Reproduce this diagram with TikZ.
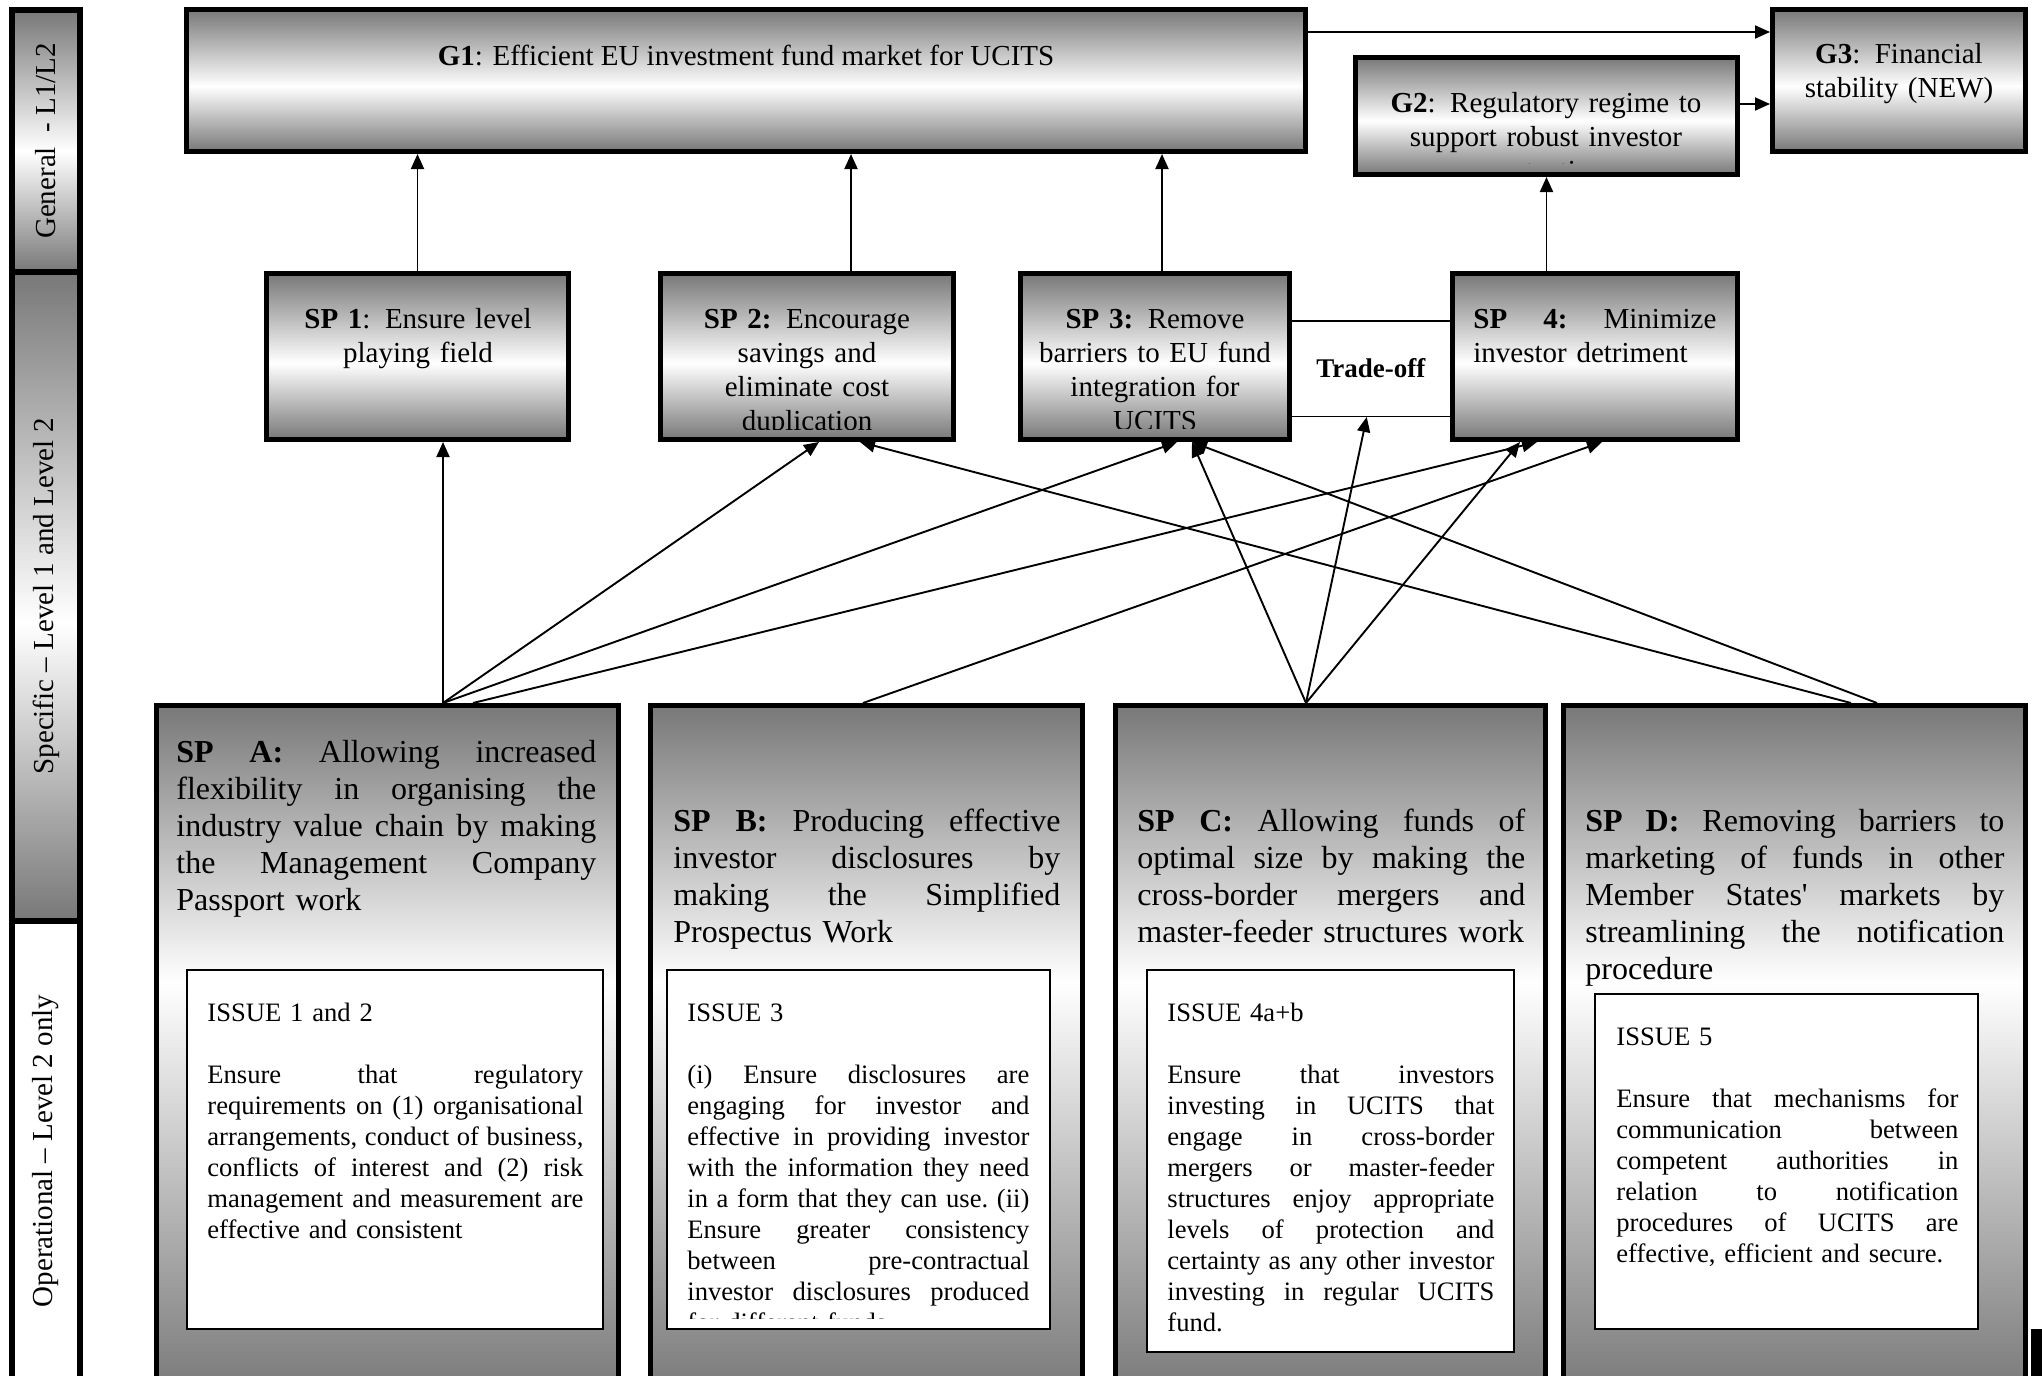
\documentclass[tikz,border=0pt]{standalone}
\usepackage{fontspec}
\setmainfont{Liberation Serif}
\usetikzlibrary{arrows.meta,calc}
\definecolor{sg}{gray}{0.47}
\pgfdeclareverticalshading{topshade}{100bp}{color(0bp)=(sg); color(25bp)=(sg); color(48bp)=(white); color(75bp)=(sg); color(100bp)=(sg)}
\pgfdeclareverticalshading{tallshade}{100bp}{color(0bp)=(sg); color(25bp)=(sg); color(55bp)=(white); color(75bp)=(sg); color(100bp)=(sg)}
\newcommand\jl[1]{\makebox[\hsize][s]{\frenchspacing\spaceskip=.25em plus 1fil\xspaceskip=.25em plus 1fil\relax #1}}
\tikzset{
  stripbox/.style={draw, line width=3pt, inner sep=0pt, anchor=north west, minimum width=34pt},
  striptext/.style={font=\fontsize{14.5}{17}\selectfont, inner sep=0pt, rotate=90},
  tbox/.style={draw, line width=2.5pt, inner sep=0pt, anchor=north west, shade, shading=topshade},
  bbox/.style={draw, line width=2.5pt, inner sep=0pt, anchor=north west, shade, shading=tallshade, minimum height=346pt},
  ibox/.style={draw, line width=0.8pt, fill=white, inner sep=0pt, anchor=north west},
  ttext/.style={font=\fontsize{14.5}{17}\selectfont, inner sep=0pt, anchor=north, align=center},
  stext/.style={font=\fontsize{16}{18.5}\selectfont, inner sep=0pt, anchor=north west, align=left},
  itext/.style={font=\fontsize{13.3}{15.5}\selectfont, inner sep=0pt, anchor=north west, align=left},
  arr/.style={-{Triangle[length=7.5pt,width=6.5pt]}, line width=0.95pt}
}
\begin{document}
\begin{tikzpicture}[x=0.5pt,y=-0.5pt]
\useasboundingbox (0,0) rectangle (2042,1376);
\clip (0,0) rectangle (2042,1376);

% left strip
\node[stripbox, shade, shading=topshade, minimum height=324.5pt] (spec) at (9,269) {};
\node[stripbox, shade, shading=topshade, minimum height=131pt] (gen) at (9,7) {};
\node[stripbox, fill=white, minimum height=248pt] (op) at (9,918) {};
\node[striptext] (genT) at (gen.center) {General\ \ - L1/L2};
\node[striptext] (specT) at (spec.center) {Specific -- Level 1 and Level 2};
\node[striptext] (opT) at ($(op.north)+(0,233)$) {Operational -- Level 2 only};

% top goal boxes
\node[tbox, minimum width=559.5pt, minimum height=71pt] (g1) at (184,7) {};
\node[tbox, minimum width=191pt, minimum height=58.5pt] (g2) at (1353,55) {};
\node[tbox, minimum width=126.5pt, minimum height=71pt] (g3) at (1770,7) {};

% trade-off
\node[draw, line width=0.75pt, fill=white, inner sep=0pt, anchor=north west, minimum width=80pt, minimum height=47.75pt, font=\fontsize{13.5}{16}\selectfont\bfseries] (to) at (1290,320) {Trade-off};

% specific objective boxes
\node[tbox, minimum width=151pt, minimum height=83pt] (sp1) at (264,271) {};
\node[tbox, minimum width=146.5pt, minimum height=83pt] (sp2) at (658,271) {};
\node[tbox, minimum width=134.5pt, minimum height=83pt] (sp3) at (1018,271) {};
\node[tbox, minimum width=142.5pt, minimum height=83pt] (sp4) at (1450,271) {};

% top texts
\node[ttext] (g1t) at (746,41) {\strut\textbf{G1}: Efficient EU investment fund market for UCITS};
\node[ttext, text width=120pt] (g3t) at (1899,39) {\strut\textbf{G3}: Financial\\stability (NEW)};
\begin{scope}
\clip (1358,60) rectangle (1735,163);
\node[ttext, text width=185pt] (g2t) at (1546,88) {\strut\textbf{G2}: Regulatory regime to\\support robust investor\\protection};
\end{scope}
\node[ttext, text width=140pt] (sp1t) at (418,304) {\strut\textbf{SP 1}: Ensure level\\playing field};
\begin{scope}
\clip (661,276) rectangle (953,429);
\node[ttext, text width=140pt] (sp2t) at (807,304) {\strut\textbf{SP 2:} Encourage\\savings and\\eliminate cost\\duplication};
\end{scope}
\begin{scope}
\clip (1021,276) rectangle (1289,428);
\node[ttext, text width=130pt] (sp3t) at (1155,304) {\strut\textbf{SP 3:} Remove\\barriers to EU fund\\integration for\\UCITS};
\end{scope}
\node[ttext, anchor=north west, align=left, text width=121.5pt] (sp4t) at (1473,304) {\jl{\strut\textbf{SP 4:} Minimize}\\investor detriment};

% bottom boxes
\node[bbox, minimum width=231pt] (spA) at (154,703) {};
\node[bbox, minimum width=216pt] (spB) at (648,703) {};
\node[bbox, minimum width=215pt] (spC) at (1113,703) {};
\node[bbox, minimum width=231pt] (spD) at (1561,703) {};

\node[stext, text width=210pt] (spAt) at (176,736) {\jl{\strut\textbf{SP A:} Allowing increased}\\\jl{flexibility in organising the}\\\jl{industry value chain by making}\\\jl{the Management Company}\\Passport work};
\node[stext, text width=193.5pt] (spBt) at (673,805) {\jl{\strut\textbf{SP B:} Producing effective}\\\jl{investor disclosures by}\\\jl{making the Simplified}\\Prospectus Work};
\node[stext, text width=194pt] (spCt) at (1137,805) {\jl{\strut\textbf{SP C:} Allowing funds of}\\\jl{optimal size by making the}\\\jl{cross-border mergers and}\\master-feeder structures work};
\node[stext, text width=209.5pt] (spDt) at (1585,805) {\jl{\strut\textbf{SP D:} Removing barriers to}\\\jl{marketing of funds in other}\\\jl{Member States\textquotesingle{} markets by}\\\jl{streamlining the notification}\\procedure};

% issue boxes
\node[ibox, minimum width=208.2pt, minimum height=179.7pt] (iA) at (186,969) {};
\node[ibox, minimum width=191.7pt, minimum height=179.7pt] (iB) at (666,969) {};
\node[ibox, minimum width=183.7pt, minimum height=191.2pt] (iC) at (1146,969) {};
\node[ibox, minimum width=191.7pt, minimum height=167.7pt] (iD) at (1594,993) {};

\node[itext, text width=188pt] (iAt) at (207,999) {\strut ISSUE 1 and 2\\[15.5pt]\jl{Ensure that regulatory}\\\jl{requirements on (1) organisational}\\\jl{arrangements, conduct of business,}\\\jl{conflicts of interest and (2) risk}\\\jl{management and measurement are}\\effective and consistent};
\begin{scope}
\clip (668,971) rectangle (1049,1318);
\node[itext, text width=171pt] (iBt) at (687,999) {\strut ISSUE 3\\[15.5pt]\jl{(i) Ensure disclosures are}\\\jl{engaging for investor and}\\\jl{effective in providing investor}\\\jl{with the information they need}\\\jl{in a form that they can use. (ii)}\\\jl{Ensure greater consistency}\\\jl{between pre-contractual}\\\jl{investor disclosures produced}\\for different funds.};
\end{scope}
\node[itext, text width=163.5pt] (iCt) at (1167,999) {\strut ISSUE 4a+b\\[15.5pt]\jl{Ensure that investors}\\\jl{investing in UCITS that}\\\jl{engage in cross-border}\\\jl{mergers or master-feeder}\\\jl{structures enjoy appropriate}\\\jl{levels of protection and}\\\jl{certainty as any other investor}\\\jl{investing in regular UCITS}\\fund.};
\node[itext, text width=171pt] (iDt) at (1616,1023) {\strut ISSUE 5\\[15.5pt]\jl{Ensure that mechanisms for}\\\jl{communication between}\\\jl{competent authorities in}\\\jl{relation to notification}\\\jl{procedures of UCITS are}\\effective, efficient and secure.};

% small mark bottom right
\node[fill=black, inner sep=0pt, anchor=north west, minimum width=5.5pt, minimum height=24pt] (mark) at (2031,1329) {};

% connectors between goals
\coordinate (cg1) at ($(g1.north east)+(0,25)$);
\coordinate (cg2) at ($(g2.north east)+(0,49)$);
\draw[arr] (cg1) -- (cg1 -| g3.west);
\draw[arr] (cg2) -- (cg2 -| g3.west);

% specific -> general
\coordinate (c2) at ($(sp2.north)+(44,0)$);
\coordinate (c3) at ($(sp3.north)+(7,0)$);
\draw[arr] (sp1.north) -- (sp1.north |- g1.south);
\draw[arr] (c2) -- (c2 |- g1.south);
\draw[arr] (c3) -- (c3 |- g1.south);
\draw[arr] (g2.south |- sp4.north) -- (g2.south);

% operational -> specific
\coordinate (oA1) at ($(spA.north)+(55.5,0)$);
\coordinate (oA2) at ($(spA.north)+(85.5,0)$);
\coordinate (oB) at ($(spB.north)+(-3.5,0)$);
\coordinate (oC) at ($(spC.north)+(-24.5,0)$);
\coordinate (oD1) at ($(spD.north)+(56.5,0)$);
\coordinate (oD2) at ($(spD.north)+(82.5,0)$);
\draw[arr] (oA1) -- (oA1 |- sp1.south);
\draw[arr] (oA1) -- ($(sp2.south)+(12,0)$);
\draw[arr] (oA1) -- ($(sp3.south)+(22,0)$);
\draw[arr] (oA2) -- ($(sp4.south)+(-58,0)$);
\draw[arr] (oB) -- ($(sp4.south)+(7,0)$);
\draw[arr] (oC) -- ($(sp3.south)+(37,0)$);
\draw[arr] (oC) -- ($(to.south)+(-4,0)$);
\draw[arr] (oC) -- ($(sp4.south)+(-75,0)$);
\draw[arr] (oD1) -- ($(sp2.south)+(53,0)$);
\draw[arr] (oD2) -- ($(sp3.south)+(37,0)$);
\end{tikzpicture}
\end{document}
